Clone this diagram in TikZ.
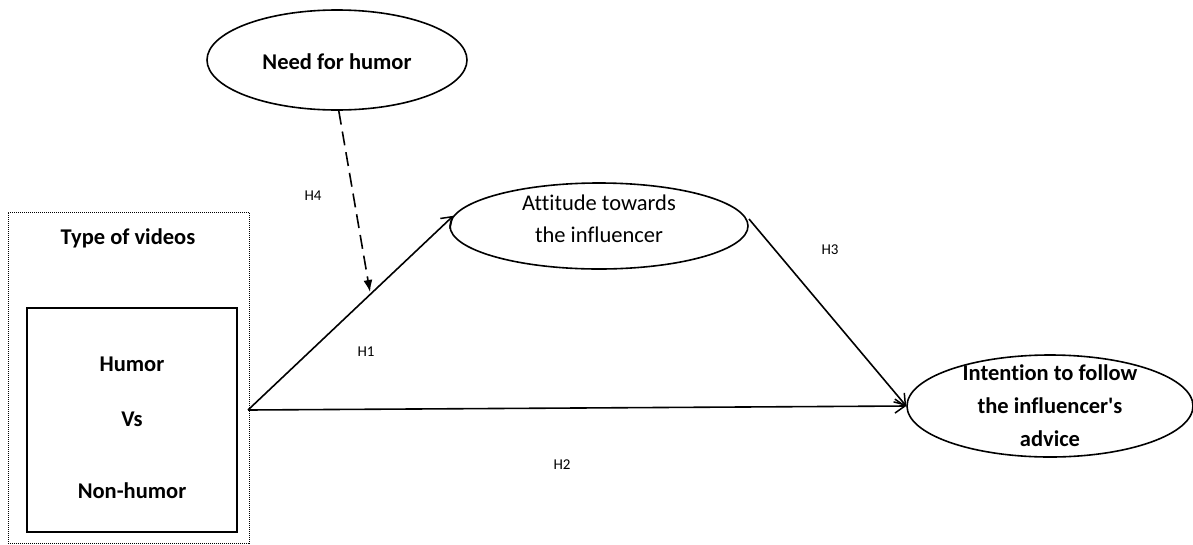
\documentclass[tikz,border=0pt]{standalone}
\usepackage{fontspec}
\newfontfamily\calib{Carlito}[Ligatures=NoCommon]
\usetikzlibrary{shapes.geometric,arrows.meta}
\begin{document}
\begin{tikzpicture}[x=1pt,y=-1pt,font=\calib,
  construct/.style={draw,ellipse,line width=1.6pt,inner sep=0pt,align=center},
  hyp/.style={font=\calib\fontsize{15}{17}\selectfont},
  path/.style={line width=1.6pt,-{Straight Barb[length=10pt,width=14pt,line width=1.5pt]}},
  modpath/.style={line width=1.6pt,dash pattern=on 14pt off 7pt,-{Latex[length=12pt,width=9pt]}},
  lbl/.style={font=\calib\fontsize{22.5}{26}\selectfont\bfseries,align=center}]
\useasboundingbox (0,0) rectangle (1193,544);
% moderator
\node[construct,minimum width=260pt,minimum height=100pt] (need) at (337,60) {};
\node[lbl] at (337,62) {Need for humor};
% mediator
\node[construct,minimum width=298pt,minimum height=86pt] (att) at (599,226) {};
\node[font=\calib\fontsize{22.5}{32}\selectfont,align=center] at (599,219) {Attitude towards\\the influencer};
% outcome
\node[construct,minimum width=286pt,minimum height=102pt] (int) at (1050,406) {};
\node[font=\calib\fontsize{22.5}{33}\selectfont\bfseries,align=center] at (1050,406) {Intention to follow\\the influencer\symbol{39}s\\advice};
% independent variable
\node[draw,densely dotted,line width=1pt,minimum width=241pt,minimum height=331pt] (type) at (128.5,377.5) {};
\node[lbl] at (128,238) {Type of videos};
\node[draw,line width=1.6pt,minimum width=210pt,minimum height=224pt] (cond) at (132,420) {};
\node[lbl] at (132,364) {Humor};
\node[lbl] at (132,419) {Vs};
\node[lbl] at (132,491) {Non-humor};
% paths
\coordinate (src) at (248,410);
\coordinate (mod) at (370,292);
\coordinate (attR) at (749,219);
\draw[path] (src) -- (att.176);
\draw[path] (src) -- (int.west);
\draw[path] (attR) -- (int.west);
\draw[modpath] (need.272) -- (mod);
% hypothesis labels
\node[hyp] at (313,196) {H4};
\node[hyp] at (366,352) {H1};
\node[hyp] at (830,250) {H3};
\node[hyp] at (562,465) {H2};
\end{tikzpicture}
\end{document}
